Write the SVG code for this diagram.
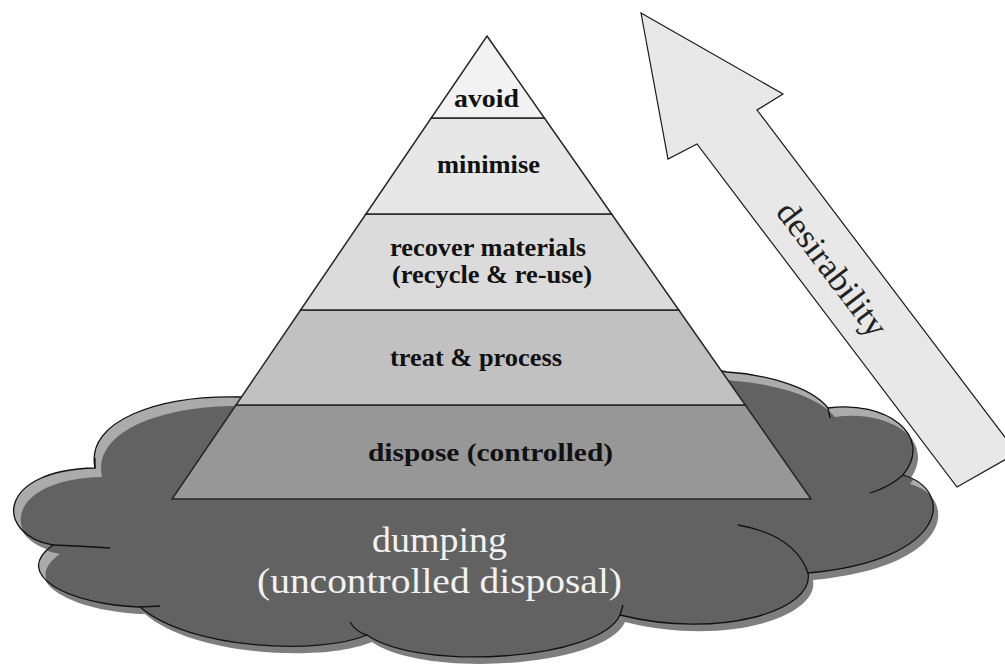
<svg xmlns="http://www.w3.org/2000/svg" width="1005" height="666" viewBox="0 0 1005 666">
<style>
.layer{stroke:#262626;stroke-width:1.5;stroke-linejoin:miter}
.lbl{font-family:"Liberation Serif","Times New Roman",serif;font-weight:bold;font-size:25px;fill:#111}
.cl{font-family:"Liberation Serif","Times New Roman",serif;font-size:35px;fill:#f2f2f2}
.inner{fill:none;stroke:#111;stroke-width:1.3}
</style>
<defs>
<path id="cloudShape" d="M 480,368 C 600,362 700,366 727,372 C 760,374 810,385 828,408 C 885,400 935,435 903,475 C 955,490 950,560 808,573 C 815,610 720,640 620,615 C 600,660 420,672 367,635 C 320,655 190,650 140,607 C 70,605 10,575 53,545 C -5,535 -5,470 95,468 C 85,420 160,395 240,397 C 320,392 400,375 480,368 Z"/>
<clipPath id="cloudClip"><use href="#cloudShape"/></clipPath>
</defs>
<rect width="1005" height="666" fill="#ffffff"/>

<g id="cloud">
<use href="#cloudShape" transform="translate(5,7)" fill="#7e7e7e"/>
<use href="#cloudShape" fill="#ababab"/>
<g clip-path="url(#cloudClip)"><use href="#cloudShape" transform="translate(7,9)" fill="#626262"/></g>
<use href="#cloudShape" fill="none" stroke="#111" stroke-width="1.3"/>
<path class="inner" d="M 828,408 L 830,418"/>
<path class="inner" d="M 903,475 Q 890,487 870,493"/>
<path class="inner" d="M 738,525 Q 795,535 808,573"/>
<path class="inner" d="M 620,615 L 623,605"/>
<path class="inner" d="M 350,622 Q 356,632 367,635"/>
<path class="inner" d="M 140,607 L 160,606"/>
<path class="inner" d="M 53,545 Q 80,546 110,548"/>
<path class="inner" d="M 95,468 L 95,458"/>
<text class="cl" x="372" y="552" textLength="135" lengthAdjust="spacingAndGlyphs">dumping</text>
<text class="cl" x="257" y="593" textLength="365" lengthAdjust="spacingAndGlyphs">(uncontrolled disposal)</text>
</g>

<g id="arrow">
<polygon points="641,13 783,94 757,110 1017,453 957,487 697,144 668,159" fill="#e8e8e8" stroke="#1a1a1a" stroke-width="1.2" stroke-linejoin="miter"/>
<text transform="translate(831,270) rotate(52.8)" x="0" y="10" text-anchor="middle" font-family="'Liberation Serif','Times New Roman',serif" font-size="34" fill="#222" textLength="160" lengthAdjust="spacingAndGlyphs">desirability</text>
</g>

<g id="pyramid">
<g id="layer-dispose">
<polygon class="layer" points="236,405 745.3,405 811,499 172,499" fill="#979797"/>
<text class="lbl" x="368" y="461" textLength="245" lengthAdjust="spacingAndGlyphs">dispose (controlled)</text>
</g>
<g id="layer-treat">
<polygon class="layer" points="300.6,310 678.8,310 745.3,405 236,405" fill="#c1c1c1"/>
<text class="lbl" x="390" y="366" textLength="172" lengthAdjust="spacingAndGlyphs">treat &amp; process</text>
</g>
<g id="layer-recover">
<polygon class="layer" points="365.9,214 611.6,214 678.8,310 300.6,310" fill="#dbdbdb"/>
<text class="lbl" x="390" y="256" textLength="196" lengthAdjust="spacingAndGlyphs">recover materials</text>
<text class="lbl" x="392" y="283" textLength="200" lengthAdjust="spacingAndGlyphs">(recycle &amp; re-use)</text>
</g>
<g id="layer-minimise">
<polygon class="layer" points="431.2,118 544.4,118 611.6,214 365.9,214" fill="#e7e7e7"/>
<text class="lbl" x="437" y="173" textLength="103" lengthAdjust="spacingAndGlyphs">minimise</text>
</g>
<g id="layer-avoid">
<polygon class="layer" points="487,36 544.4,118 431.2,118" fill="#f2f2f2"/>
<text class="lbl" x="454" y="107" textLength="65" lengthAdjust="spacingAndGlyphs">avoid</text>
</g>
</g>
</svg>
